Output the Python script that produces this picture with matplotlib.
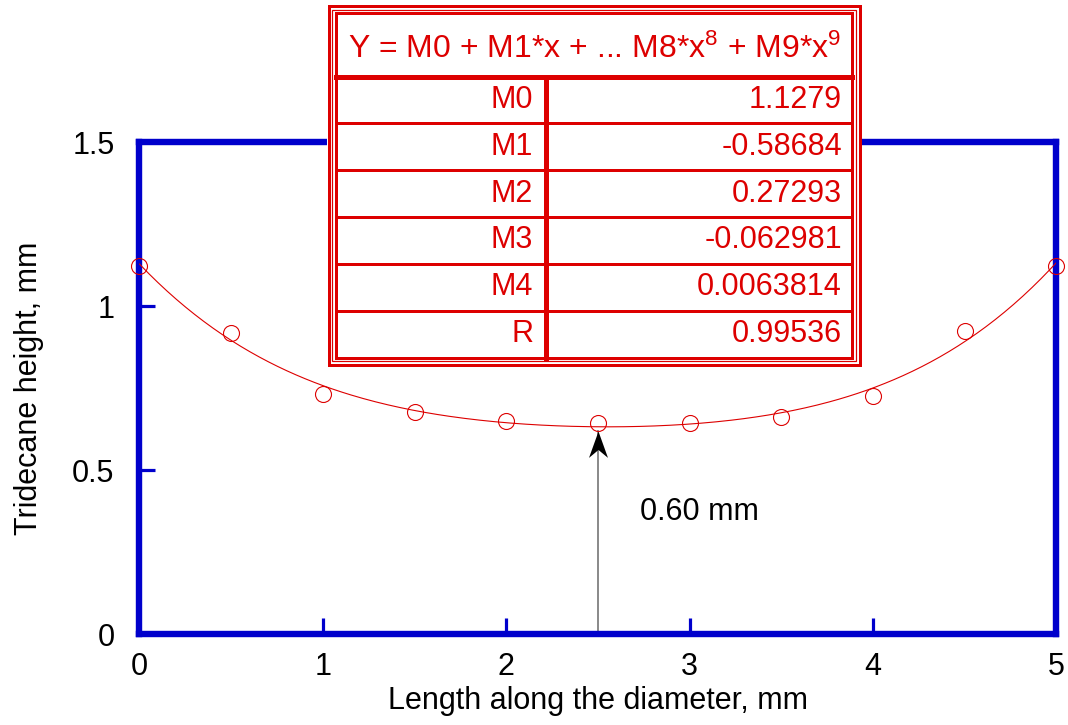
import numpy as np
import matplotlib
matplotlib.use("Agg")
import matplotlib.pyplot as plt
from matplotlib.path import Path
from matplotlib.patches import Rectangle

plt.rcParams['font.family'] = ['Liberation Sans', 'DejaVu Sans']
plt.rcParams['mathtext.fontset'] = 'custom'
plt.rcParams['mathtext.rm'] = 'Liberation Sans'
plt.rcParams['mathtext.it'] = 'Liberation Sans'

# ---------------- data ----------------
x_pts = [0, 0.5, 1, 1.5, 2, 2.5, 3, 3.5, 4, 4.5, 5]
y_pts = [1.123, 0.917, 0.731, 0.677, 0.650, 0.642, 0.642, 0.662, 0.726, 0.924, 1.122]

coef_names = ["M0", "M1", "M2", "M3", "M4", "R"]
coef_text = ["1.1279", "-0.58684", "0.27293", "-0.062981", "0.0063814", "0.99536"]
coefs = [1.1279, -0.58684, 0.27293, -0.062981, 0.0063814]   # M0..M4

xticks = [0, 1, 2, 3, 4, 5]
yticks = [0, 0.5, 1, 1.5]
ytick_labels = ["0", "0.5", "1", "1.5"]

arrow_x = 2.5
arrow_tip = 0.62
arrow_label = "0.60 mm"

BLUE = "#0000CC"
RED = "#DD0000"
FS = 22

# ---------------- plot ----------------
fig = plt.figure(figsize=(10.68, 7.25), dpi=100)
ax = fig.add_axes([0.1306, 0.1255, 0.8586, 0.6786])

xf = np.linspace(0, 5, 300)
yf = np.polynomial.polynomial.polyval(xf, coefs)
ax.plot(xf, yf, color=RED, lw=0.8, zorder=3)
ax.plot(x_pts, y_pts, 'o', mfc='none', mec=RED, ms=11.5, mew=0.8,
        clip_on=False, zorder=5)

# arrow
ax.plot([arrow_x, arrow_x], [0, arrow_tip], color='#808080', lw=1.3, zorder=2)
head = Path([(0, 0), (-0.36, -1), (0, -0.7), (0.36, -1), (0, 0)],
            [Path.MOVETO, Path.LINETO, Path.LINETO, Path.LINETO, Path.CLOSEPOLY])
ax.plot([arrow_x], [arrow_tip], marker=head, ms=38, color='black',
        mew=0, zorder=4)
ax.text(2.73, 0.372, arrow_label, fontsize=FS, va='center', ha='left')

ax.set_xlim(0, 5)
ax.set_ylim(0, 1.5)
ax.set_xticks(xticks)
ax.set_yticks(yticks)
ax.set_yticklabels(ytick_labels)
for s in ax.spines.values():
    s.set_color(BLUE)
    s.set_linewidth(4.6)
ax.tick_params(direction='in', length=11.5, width=2.3, color=BLUE,
               labelsize=FS, top=False, right=False)
ax.tick_params(axis='x', pad=13)
ax.tick_params(axis='y', pad=18)

ax.set_xlabel("Length along the diameter, mm", fontsize=FS, va='center')
ax.xaxis.set_label_coords(0.5, -0.136)
ax.set_ylabel("Tridecane height, mm", fontsize=FS, va='center')
ax.yaxis.set_label_coords(-0.121, 0.5)

# ---------------- coefficient table (pixel coords) ----------------
tb = fig.add_axes([0, 0, 1, 1])
tb.set_xlim(0, 1068)
tb.set_ylim(725, 0)
tb.axis('off')

k = 0.72  # px -> pt
tb.add_patch(Rectangle((327, 4), 535, 362, facecolor='white', edgecolor='none'))
tb.add_patch(Rectangle((328.5, 5.5), 531.5, 359, fill=False, edgecolor=RED, lw=3 * k))
tb.add_patch(Rectangle((332, 10), 523.5, 351, fill=False, edgecolor=RED, lw=1.2 * k))
tb.add_patch(Rectangle((336, 13), 516, 344.5, fill=False, edgecolor=RED, lw=3 * k))

head_bottom = 76.5
row_h = (357.5 - head_bottom) / len(coef_names)
tb.plot([336, 852], [head_bottom, head_bottom], color=RED, lw=5 * k)
tb.plot([545.5, 545.5], [head_bottom, 357.5], color=RED, lw=5 * k)
for i in range(1, len(coef_names)):
    yy = head_bottom + i * row_h
    tb.plot([336, 852], [yy, yy], color=RED, lw=3 * k)

tb.text(595, 49, r"Y = M0 + M1*x + ... M8*x$^{8}$ + M9*x$^{9}$", color=RED,
        fontsize=23, ha='center', va='center')
for i, (nm, val) in enumerate(zip(coef_names, coef_text)):
    yc = head_bottom + (i + 0.5) * row_h
    tb.text(533, yc, nm, color=RED, fontsize=FS, ha='right', va='center')
    tb.text(842, yc, val, color=RED, fontsize=FS, ha='right', va='center')

fig.savefig("out.png", dpi=100)
